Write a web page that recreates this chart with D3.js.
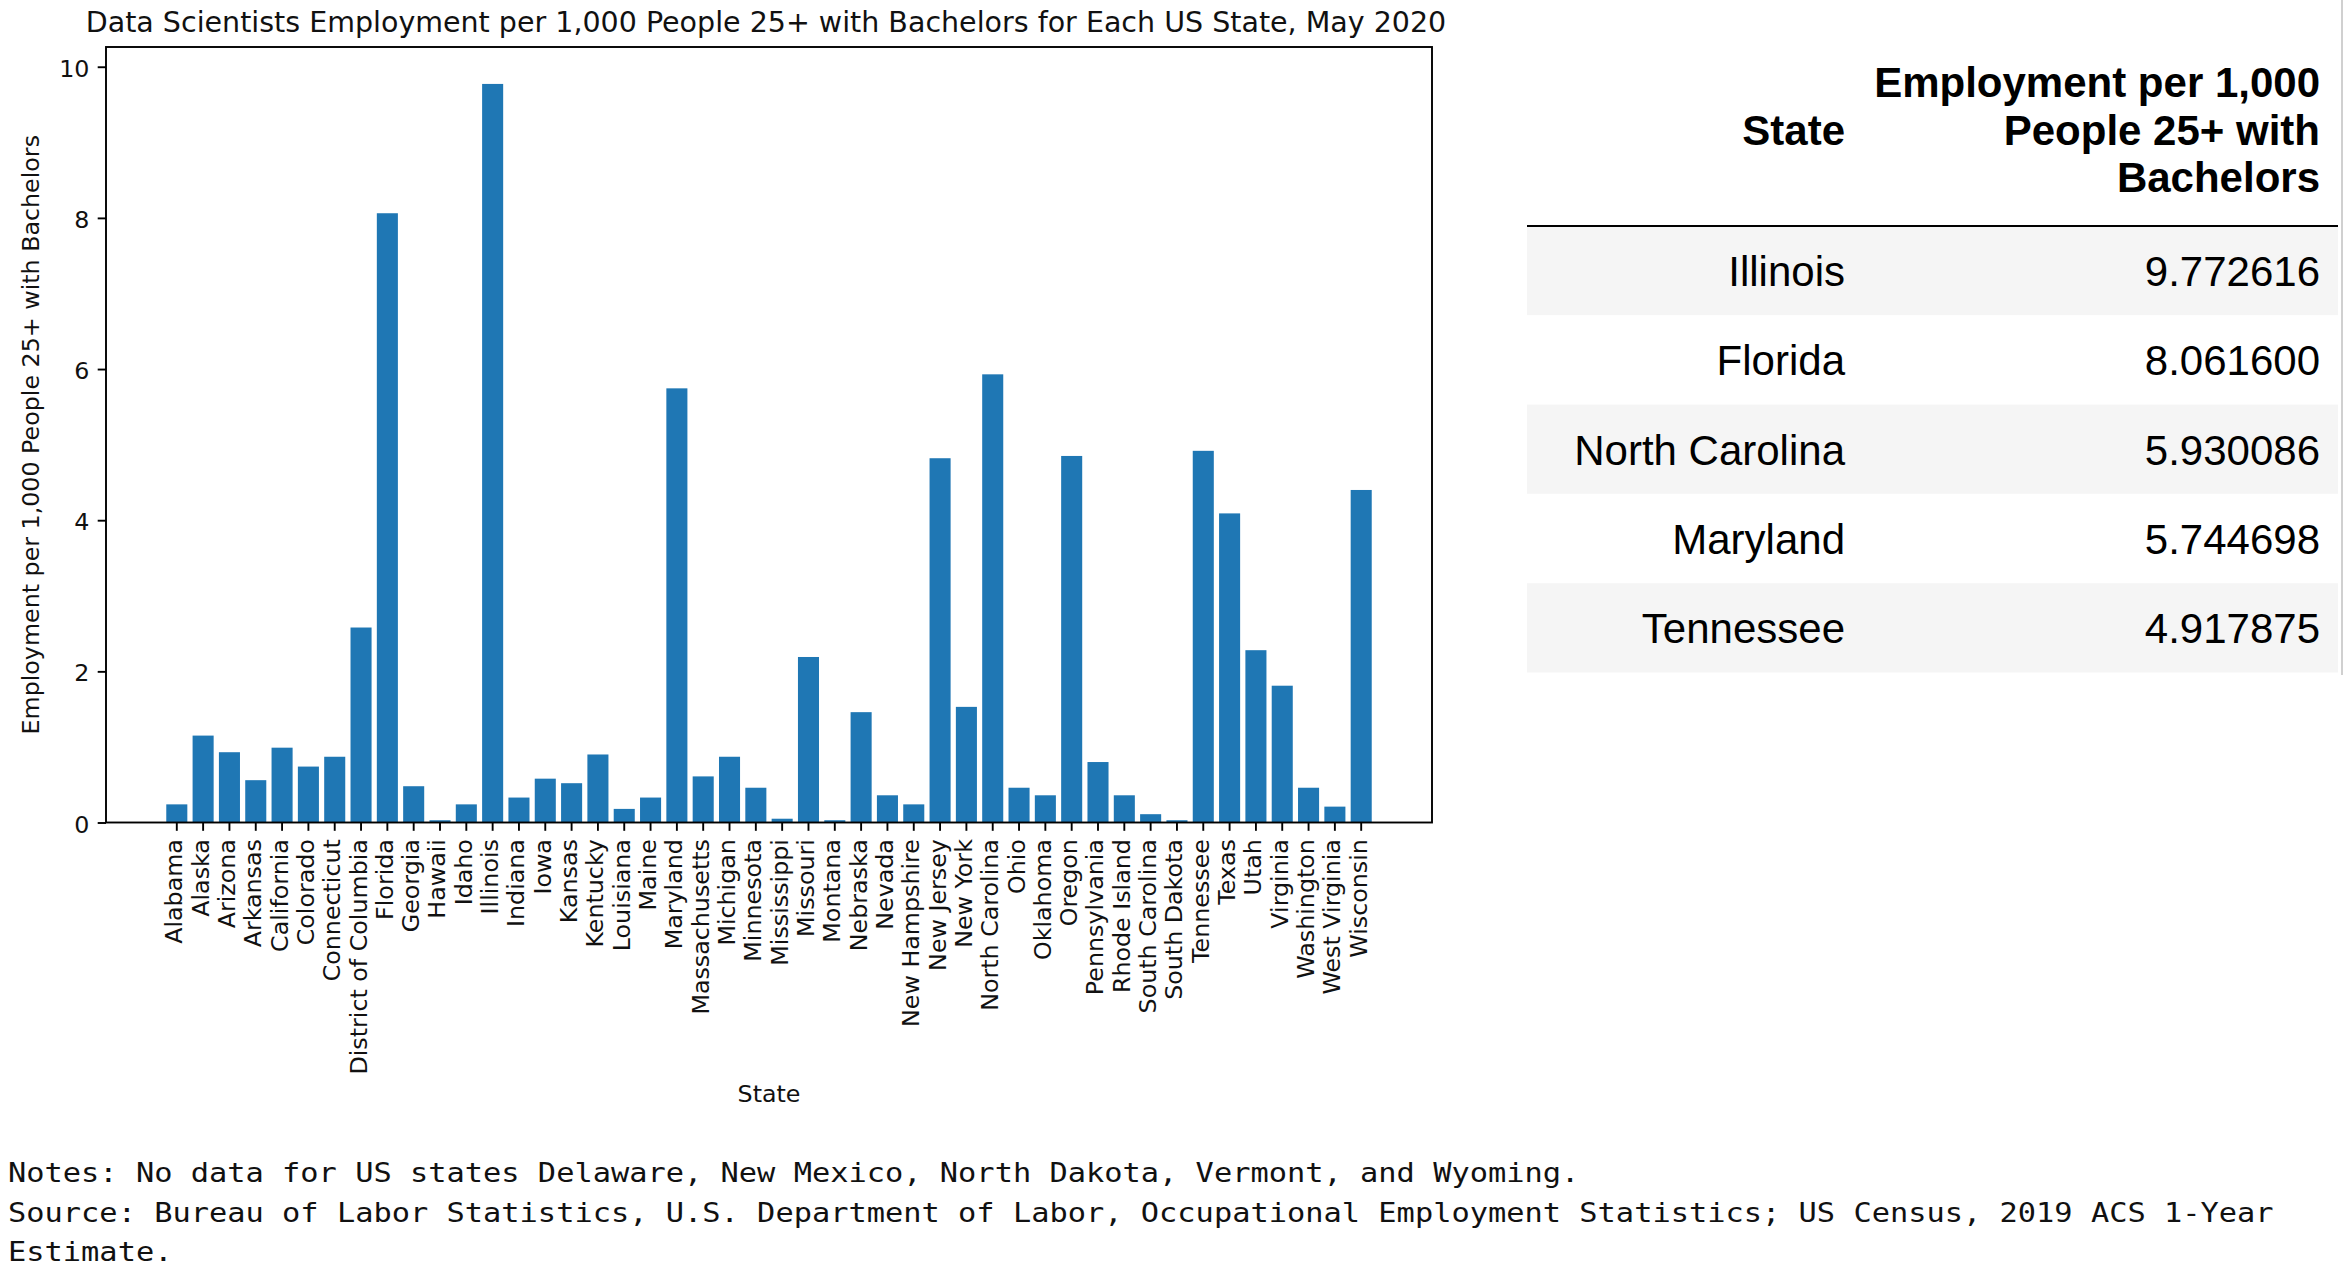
<!DOCTYPE html>
<html>
<head>
<meta charset="utf-8">
<script src="https://cdn.jsdelivr.net/npm/d3@7"></script>
<style>
  html, body { margin: 0; padding: 0; background: #fff; }
  svg { display: block; }
</style>
</head>
<body>
<svg id="chart" width="2346" height="1275"></svg>
<script>
// ---------------- data ----------------
const states = ["Alabama","Alaska","Arizona","Arkansas","California","Colorado","Connecticut",
  "District of Columbia","Florida","Georgia","Hawaii","Idaho","Illinois","Indiana","Iowa","Kansas",
  "Kentucky","Louisiana","Maine","Maryland","Massachusetts","Michigan","Minnesota","Mississippi",
  "Missouri","Montana","Nebraska","Nevada","New Hampshire","New Jersey","New York","North Carolina",
  "Ohio","Oklahoma","Oregon","Pennsylvania","Rhode Island","South Carolina","South Dakota",
  "Tennessee","Texas","Utah","Virginia","Washington","West Virginia","Wisconsin"];
const values = [0.24,1.15,0.93,0.56,0.99,0.74,0.87,
  2.58,8.0616,0.48,0.03,0.24,9.772616,0.33,0.58,0.52,
  0.90,0.18,0.33,5.744698,0.61,0.87,0.46,0.05,
  2.19,0.03,1.46,0.36,0.24,4.82,1.53,5.930086,
  0.46,0.36,4.85,0.80,0.36,0.11,0.03,
  4.917875,4.09,2.28,1.81,0.46,0.21,4.40];
const yTicks = [0, 2, 4, 6, 8, 10];

const chartTitle = "Data Scientists Employment per 1,000 People 25+ with Bachelors for Each US State, May 2020";
const yLabel = "Employment per 1,000 People 25+ with Bachelors";
const xLabel = "State";

const tableStates = ["Illinois","Florida","North Carolina","Maryland","Tennessee"];
const tableValues = [9.772616, 8.061600, 5.930086, 5.744698, 4.917875];
const tableHeaderState = "State";
const tableHeaderValue = ["Employment per 1,000", "People 25+ with", "Bachelors"];

const notes = [
  "Notes: No data for US states Delaware, New Mexico, North Dakota, Vermont, and Wyoming.",
  "Source: Bureau of Labor Statistics, U.S. Department of Labor, Occupational Employment Statistics; US Census, 2019 ACS 1-Year",
  "Estimate."
];

// ---------------- layout ----------------
const svg = d3.select("#chart");
const pL = 106, pR = 1432, pT = 47, pB = 822.5;
const tickFont = "DejaVu Sans, sans-serif";
const tickSize = 23.75;

const n = states.length;
const x = d3.scaleBand()
  .domain(states)
  .range([pL, pR])
  .paddingInner(0.2)
  .paddingOuter(0.05 * (n - 1 + 0.8));

const y = d3.scaleLinear()
  .domain([0, d3.max(values) * 1.05])
  .range([pB, pT]);

const g = svg.append("g");

// bars
g.selectAll("rect.bar")
  .data(values)
  .join("rect")
  .attr("class", "bar")
  .attr("x", (d, i) => x(states[i]))
  .attr("width", x.bandwidth())
  .attr("y", d => y(d))
  .attr("height", d => y(0) - y(d))
  .attr("fill", "#1f77b4");

// x axis
const xAxis = g.append("g")
  .attr("transform", `translate(0,${pB})`)
  .call(d3.axisBottom(x).tickSize(8.3).tickSizeOuter(0).tickPadding(8.3));
xAxis.select(".domain").remove();
xAxis.selectAll(".tick line").attr("stroke", "#000").attr("stroke-width", 1.9);
xAxis.selectAll(".tick text")
  .attr("x", 0).attr("y", 0)
  .attr("dy", "0.23em")
  .attr("transform", "translate(0,16.6) rotate(-90)")
  .attr("text-anchor", "end")
  .attr("font-family", tickFont)
  .attr("font-size", tickSize)
  .attr("fill", "#111");

// y axis
const yAxis = g.append("g")
  .attr("transform", `translate(${pL},0)`)
  .call(d3.axisLeft(y).tickValues(yTicks).tickFormat(d3.format("d")).tickSize(8.3).tickSizeOuter(0).tickPadding(8.3));
yAxis.select(".domain").remove();
yAxis.selectAll(".tick line").attr("stroke", "#000").attr("stroke-width", 1.9);
yAxis.selectAll(".tick text")
  .attr("dy", "0.40em")
  .attr("font-family", tickFont)
  .attr("font-size", tickSize)
  .attr("fill", "#111");

// spines
g.append("rect")
  .attr("x", pL).attr("y", pT)
  .attr("width", pR - pL).attr("height", pB - pT)
  .attr("fill", "none").attr("stroke", "#000").attr("stroke-width", 1.9);

// title
g.append("text")
  .attr("x", 766).attr("y", 32)
  .attr("text-anchor", "middle")
  .attr("font-family", tickFont)
  .attr("font-size", 28.5)
  .attr("fill", "#111")
  .text(chartTitle);

// y label
g.append("text")
  .attr("transform", `translate(38.5,${(pT + pB) / 2}) rotate(-90)`)
  .attr("text-anchor", "middle")
  .attr("font-family", tickFont)
  .attr("font-size", tickSize)
  .attr("fill", "#111")
  .text(yLabel);

// x label
g.append("text")
  .attr("x", (pL + pR) / 2).attr("y", 1102)
  .attr("text-anchor", "middle")
  .attr("font-family", tickFont)
  .attr("font-size", tickSize)
  .attr("fill", "#111")
  .text(xLabel);

// ---------------- table ----------------
const tFont = "Liberation Sans, Arial, sans-serif";
const tLeft = 1527, tMid = 1867, tRight = 2338;
const headLine = 226, rowH = 89.3;
const tg = svg.append("g");

tg.selectAll("rect.row")
  .data(tableStates)
  .join("rect")
  .attr("class", "row")
  .attr("x", tLeft).attr("width", tRight - tLeft)
  .attr("y", (d, i) => headLine + i * rowH)
  .attr("height", rowH)
  .attr("fill", (d, i) => i % 2 === 0 ? "#f5f5f5" : "#ffffff");

tg.append("line")
  .attr("x1", tLeft).attr("x2", tRight)
  .attr("y1", headLine).attr("y2", headLine)
  .attr("stroke", "#000").attr("stroke-width", 2);

tg.append("text")
  .attr("x", tMid - 22).attr("y", 144.5)
  .attr("text-anchor", "end")
  .attr("font-family", tFont).attr("font-weight", "bold")
  .attr("font-size", 42).attr("fill", "#000")
  .text(tableHeaderState);

tg.selectAll("text.hv")
  .data(tableHeaderValue)
  .join("text")
  .attr("class", "hv")
  .attr("x", tRight - 18)
  .attr("y", (d, i) => 97 + i * 47.5)
  .attr("text-anchor", "end")
  .attr("font-family", tFont).attr("font-weight", "bold")
  .attr("font-size", 42).attr("fill", "#000")
  .text(d => d);

tg.selectAll("text.ts")
  .data(tableStates)
  .join("text")
  .attr("class", "ts")
  .attr("x", tMid - 22)
  .attr("y", (d, i) => headLine + i * rowH + 60)
  .attr("text-anchor", "end")
  .attr("font-family", tFont)
  .attr("font-size", 42).attr("fill", "#000")
  .text(d => d);

tg.selectAll("text.tv")
  .data(tableValues)
  .join("text")
  .attr("class", "tv")
  .attr("x", tRight - 18)
  .attr("y", (d, i) => headLine + i * rowH + 60)
  .attr("text-anchor", "end")
  .attr("font-family", tFont)
  .attr("font-size", 42).attr("fill", "#000")
  .text(d => d3.format(".6f")(d));

// right border line
svg.append("line")
  .attr("x1", 2342).attr("x2", 2342)
  .attr("y1", 0).attr("y2", 675)
  .attr("stroke", "#d0d0d0").attr("stroke-width", 2);

// ---------------- notes ----------------
svg.selectAll("text.note")
  .data(notes)
  .join("text")
  .attr("class", "note")
  .attr("transform", (d, i) => `translate(8,${1182 + i * 39.5}) scale(1.168,1)`)
  .attr("font-family", "DejaVu Sans Mono, monospace")
  .attr("font-size", 26)
  .attr("fill", "#111")
  .text(d => d);
</script>
</body>
</html>
